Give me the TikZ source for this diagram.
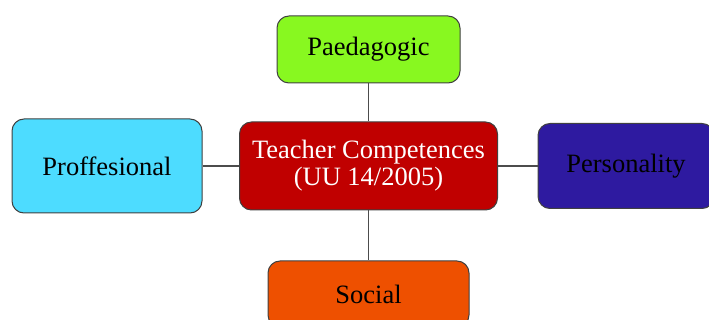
\documentclass[tikz,border=0pt]{standalone}
\usepackage{fontspec}
\setmainfont{Liberation Serif}
\usepackage{xcolor}

\definecolor{paedgreen}{HTML}{88F820}
\definecolor{compred}{HTML}{C00000}
\definecolor{profcyan}{HTML}{4DDCFF}
\definecolor{persblue}{HTML}{2E1AA0}
\definecolor{socorange}{HTML}{EE5000}

\begin{document}
\begin{tikzpicture}[
  x=1pt, y=-1pt,
  font=\fontsize{26.5}{27}\selectfont,
  box/.style={
    draw=black!75,
    line width=1pt,
    rounded corners=12pt,
    align=center,
    inner sep=0pt
  },
  link/.style={draw=black!70, line width=1.3pt}
]
  \useasboundingbox (0,0) rectangle (709,320);

  \node[box, fill=compred, text=white, minimum width=258pt, minimum height=88pt] (teacher) at (368.5,166) {Teacher Competences\\(UU 14/2005)};
  \node[box, fill=paedgreen, minimum width=183pt, minimum height=67pt] (paed) at (368.5,49.5) {Paedagogic};
  \node[box, fill=profcyan, minimum width=190pt, minimum height=94pt] (prof) at (107,166) {Proffesional};
  \node[box, fill=persblue, minimum width=176pt, minimum height=85pt] (pers) at (626,166) {Personality};
  \node[box, fill=socorange, minimum width=201pt, minimum height=66pt] (social) at (368.5,294) {Social};

  \draw[link] (paed) -- (teacher);
  \draw[link] (teacher) -- (social);
  \draw[link] (prof) -- (teacher);
  \draw[link] (teacher) -- (pers);
\end{tikzpicture}
\end{document}
